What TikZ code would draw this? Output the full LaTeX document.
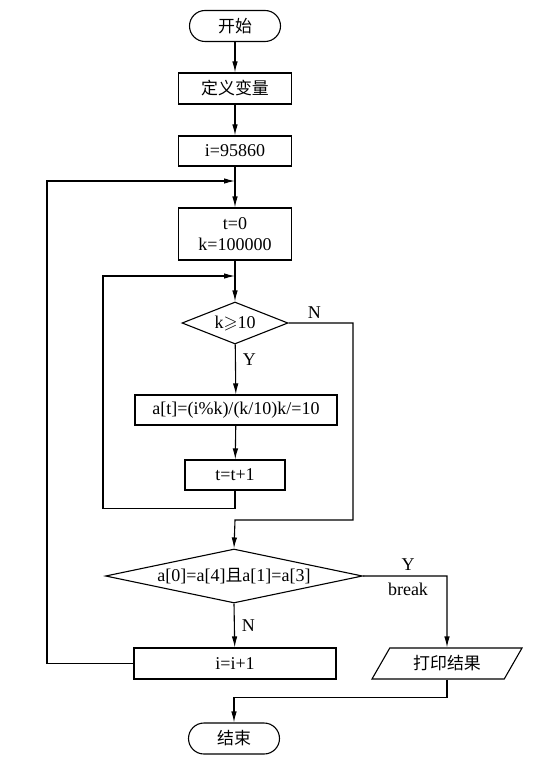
\documentclass[tikz,border=0pt]{standalone}
\usepackage{amsmath, amssymb}
\usepackage{fontspec}
\setmainfont{Liberation Serif}
\newfontfamily\cjk[Scale=0.94]{Noto Sans CJK SC}
\usepackage{tikz}
\usetikzlibrary{shapes.geometric, arrows.meta, calc}
\tikzset{
	% Shared look of every box in the chart
	flow/.style={draw, line width=1.1pt, inner sep=0pt, align=center,
		font=\fontsize{18}{21}\selectfont},
	terminal/.style={flow, rounded corners=15.5pt, minimum height=31pt, minimum width=91pt},
	process/.style={flow, rectangle, minimum height=30pt},
	decision/.style={flow, diamond},
	inout/.style={flow, trapezium, trapezium left angle=56, trapezium right angle=124,
		trapezium stretches=true, minimum width=151pt, minimum height=31pt},
	% Connectors and their small labels
	link/.style={line width=1.1pt, -{Latex[length=11pt,width=5.5pt]}},
	tag/.style={font=\fontsize{18}{19}\selectfont, inner sep=0pt}
}

\begin{document}
\begin{tikzpicture}[x=1pt, y=-1pt]
	\useasboundingbox (0,0) rectangle (536,770);
	% Main column
	\node[terminal] (start) at (235,26) {\cjk 开始};
	\node[process, minimum width=113pt, minimum height=31pt] (define) at (235,88.5) {\cjk 定义变量};
	\node[process, minimum width=113pt] (init) at (235,151) {i=95860};
	\node[process, minimum width=113pt, minimum height=52pt] (reset) at (235,234) {t=0\\k=100000};
	\node[decision, aspect=2.5, minimum width=106pt, minimum height=42pt] (check) at (235,323) {k$\geqslant$10};
	\node[process, minimum width=202pt] (digit) at (236,410) {a[t]=(i\%k)/(k/10)k/=10};
	\node[process, minimum width=100pt] (nextt) at (235,475) {t=t+1};
	\node[decision, aspect=4.76, minimum width=257pt, minimum height=54pt] (test) at (234,576) {a[0]=a[4]{\cjk 且}a[1]=a[3]};
	\node[process, minimum width=202pt, minimum height=31pt] (nexti) at (235,663.5) {i=i+1};
	\node[inout] (print) at (447,663.5) {\cjk 打印结果};
	\node[terminal] (stop) at (234,738.5) {\cjk 结束};
	% Junctions where the loops come back
	\coordinate (outer) at (235,181);
	\coordinate (inner) at (235,276);

	\draw[link] (start) -- (define);
	\draw[link] (define) -- (init);
	\draw[link] (init) -- (reset);
	\draw[link] (reset) -- (check);
	\draw[link] (check) -- node[tag, right=7pt, pos=0.3] {Y} (digit);
	\draw[link] (digit) -- (nextt);
	% Inner loop
	\draw[link] (nextt.south) -- ++(0,18) -| (103,276) -- (inner);
	\draw[link] (check.east) -- node[tag, above=4pt, pos=0.4] {N} (353,323) |- (235,520) -- (test.north);
	% Leaving the outer loop
	\draw[link] (test.east) -- (447,576) -- (print.north);
	\node[tag] (yes) at (408,565) {Y};
	\node[tag] (brk) at (408,589) {break};
	\draw[link] (test.south) -- node[tag, right=7pt] {N} (nexti);
	% Outer loop
	\draw[link] (nexti.west) -- (47,663.5) |- (outer);
	\draw[link] (print.south) -- ++(0,18) -| (stop.north);
\end{tikzpicture}
\end{document}
